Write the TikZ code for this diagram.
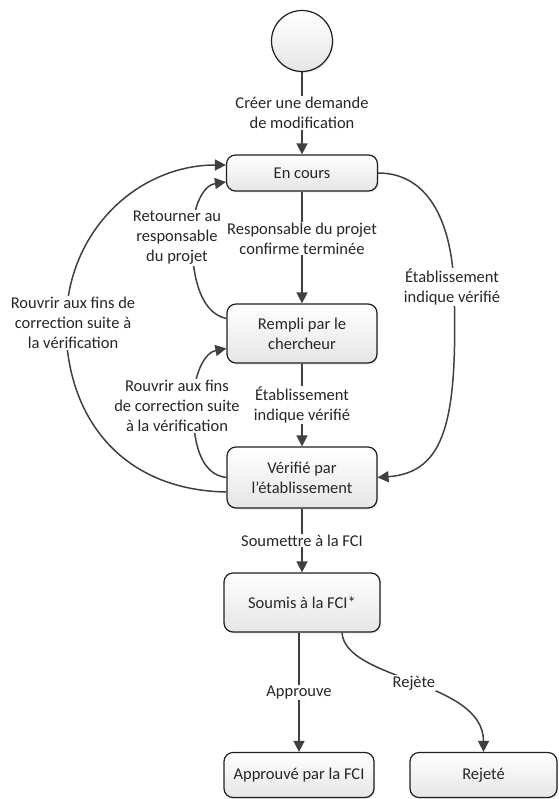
\documentclass[tikz,border=0pt]{standalone}
\usepackage{fontspec}
\setmainfont{Carlito}
\usetikzlibrary{arrows.meta,shadows,calc}
\begin{document}
\begin{tikzpicture}[x=1pt,y=-1pt,
  font=\fontsize{16.5}{20}\selectfont,
  boxlook/.style={draw=black!88, line width=1.2pt, top color=white, bottom color=black!10,
    drop shadow={opacity=0.18, shadow xshift=1.2pt, shadow yshift=-1.5pt}},
  state/.style={boxlook, rounded corners=9pt, minimum width=150pt, align=center,
    inner sep=0pt, text=black!85},
  conn/.style={draw=black!75, line width=1.5pt, -{Triangle[length=11pt,width=11pt]}},
  lab/.style={fill=white, align=center, inner sep=1pt, text=black!85}]
\useasboundingbox (0,0) rectangle (558,799);

% nodes
\node[boxlook, circle, minimum size=61pt, inner sep=0pt] (start) at (302,41) {};
\node[state, minimum width=151pt, minimum height=36pt] (enc) at (302,173) {En cours};
\node[state, minimum height=59pt] (rem) at (302,333.5) {Rempli par le\\chercheur};
\node[state, minimum height=61pt] (ver) at (302,477.5) {Vérifié par\\l’établissement};
\node[state, minimum width=156pt, minimum height=59pt] (sou) at (302,602.5) {Soumis à la FCI*};
\node[state, minimum height=45pt] (app) at (299,775) {Approuvé par la FCI};
\node[state, minimum width=147pt, minimum height=45pt] (rej) at (483.5,775) {Rejeté};

% waypoints
\coordinate (rmid) at (454,287);
\coordinate (lmid) at (66,325);
\coordinate (retmid) at (192,240);
\coordinate (rouvmid) at (193,406);

% straight connectors
\draw[conn] (start) -- node[lab]{Créer une demande\\de modification} (enc);
\draw[conn] (enc) -- node[lab, pos=0.42]{Responsable du projet\\confirme terminée} (rem);
\draw[conn] (rem) -- node[lab]{Établissement\\indique vérifié} (ver);
\draw[conn] (ver) -- node[lab]{Soumettre à la FCI} (sou);
\draw[conn] (sou.south -| app) -- node[lab]{Approuve} (app);

% Rejète
\draw[conn] ($(sou.south)+(40,0)$) .. controls +(3,48) and +(0,-72) .. (rej.north)
  node[lab, pos=0.5]{Rejète};

% right arc
\draw[conn] (enc.east) .. controls +(53,0) and +(-2,-60) .. (rmid)
  .. controls +(4,133) and +(68,-5) .. (ver.east);
\node[lab] (rlab) at (452,287) {Établissement\\indique vérifié};

% big left arc
\draw[conn] ($(ver.west)+(0,14.5)$) .. controls +(-107,-2) and +(0,90) .. (lmid)
  .. controls +(0,-95) and +(-87,0) .. ($(enc.west)+(0,-8)$);
\node[lab] (llab) at (73,323) {Rouvrir aux fins de\\correction suite à\\la vérification};

% Retourner arc
\draw[conn] ($(rem.west)+(0,-15)$) .. controls +(-29,-6) and +(0,28) .. (retmid)
  .. controls +(0,-35) and +(-22,3) .. ($(enc.west)+(0,9)$);
\node[lab] (retlab) at (177,238) {Retourner au\\responsable\\du projet};

% inner Rouvrir arc
\draw[conn] (ver.west) .. controls +(-27,-3) and +(0,34) .. (rouvmid)
  .. controls +(0,-31) and +(-22,4) .. ($(rem.west)+(0,15)$);
\node[lab] (rouvlab) at (177,406) {Rouvrir aux fins\\de correction suite\\à la vérification};
\end{tikzpicture}
\end{document}
